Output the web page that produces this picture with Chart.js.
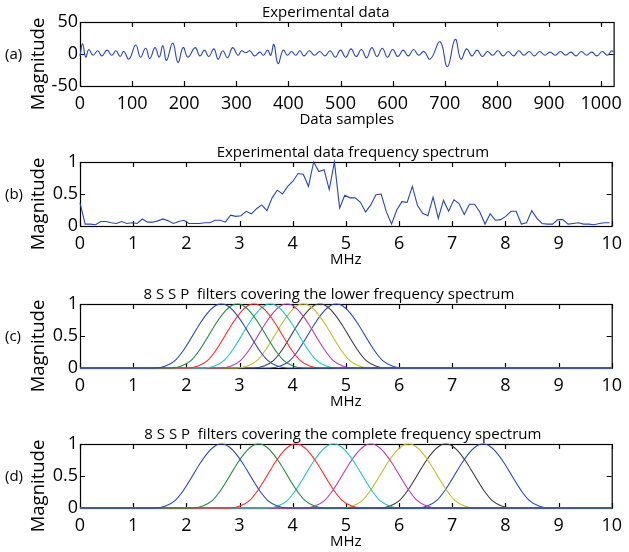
<!DOCTYPE html>
<html>
<head>
<meta charset="utf-8">
<script src="https://cdn.jsdelivr.net/npm/chart.js@4.4.1/dist/chart.umd.min.js"></script>
<style>
  html, body { margin: 0; padding: 0; background: #fff; }
  #wrap { position: relative; width: 629px; height: 552px; overflow: hidden; }
  .panel { position: absolute; left: 0; width: 629px; }
</style>
</head>
<body>
<div id="wrap">
  <div class="panel" style="top:0;height:140px"><canvas id="chartA"></canvas></div>
  <div class="panel" style="top:140px;height:140px"><canvas id="chartB"></canvas></div>
  <div class="panel" style="top:282px;height:140px"><canvas id="chartC"></canvas></div>
  <div class="panel" style="top:422px;height:130px"><canvas id="chartD"></canvas></div>
</div>
<script>
// (a) experimental data: turning points of the trace (sample index, magnitude)
const sampleIdx = [0, 5, 11, 17, 25, 34, 42, 52, 61, 69, 77, 84, 94, 107, 116, 126, 134, 144, 152, 159,
  166, 178, 188, 198, 207, 221, 230, 239, 247, 257, 265, 274, 283, 293, 303, 310, 318, 326, 335, 345,
  352, 360, 366, 372, 380, 390, 398, 406, 414, 422, 430, 440, 450, 460, 470, 480, 490, 500, 510, 520,
  530, 540, 550, 560, 570, 580, 590, 600, 610, 620, 630, 640, 650, 660, 672, 691, 705, 720, 731, 742,
  752, 762, 772, 782, 792, 802, 812, 822, 832, 842, 852, 862, 872, 882, 892, 902, 912, 922, 932, 942,
  952, 962, 972, 982, 992, 1002, 1012, 1020, 1024];
const sampleVal = [-3, 16, -5, 7, -2, 5, -3, 6, -2, 5, -4, 4, -8, 14, -5, 9, -7, 10, -5, 13,
  -10, 17, -13, 10, -5, 10, -3, 6, -4, 8, -8, 5, -6, 10, -2, 5, 2, 5, -3, 3,
  -2, 6, -2, 15, -15, 6, -2, 4, -2, 5, -3, 5, -2, 4, -3, 5, -5, 6, -5, 8,
  -4, 7, -6, 10, -4, 9, -5, 7, -4, 6, -3, 7, -2, 4, -8, 19, -20, 23, -8, 8,
  -3, 6, -4, 4, -2, 5, -3, 4, -3, 5, -2, 4, -3, 4, -2, 3, -2, 4, -2, 3,
  -3, 4, -2, 3, -3, 4, -2, 5, 3];

// (b) normalised spectrum, one value per FFT bin
const binMHz = 100 / 1024;
const specMag = [0.36, 0.03, 0.03, 0.02, 0.07, 0.07, 0.05, 0.04, 0.07, 0.04,
  0.05, 0.04, 0.11, 0.06, 0.06, 0.08, 0.11, 0.08, 0.04, 0.07,
  0.09, 0.04, 0.04, 0.04, 0.05, 0.05, 0.09, 0.09, 0.06, 0.17,
  0.15, 0.16, 0.23, 0.19, 0.27, 0.33, 0.24, 0.44, 0.56, 0.50,
  0.62, 0.70, 0.82, 0.81, 0.62, 1.00, 0.85, 0.88, 0.57, 1.00,
  0.28, 0.48, 0.44, 0.44, 0.37, 0.22, 0.33, 0.49, 0.50, 0.22,
  0.03, 0.25, 0.38, 0.37, 0.62, 0.32, 0.20, 0.16, 0.45, 0.12,
  0.40, 0.23, 0.41, 0.35, 0.18, 0.34, 0.34, 0.22, 0.03, 0.19,
  0.09, 0.10, 0.15, 0.23, 0.23, 0.03, 0.05, 0.24, 0.12, 0.04,
  0.03, 0.03, 0.10, 0.10, 0.03, 0.04, 0.05, 0.03, 0.03, 0.02,
  0.04, 0.05, 0.05];

// (c), (d) SSP filters: bell shape (offset from centre in MHz)
const filterOffset = [-1.25, -1.05, -0.88, -0.72, -0.56, -0.4, -0.25, -0.1, 0, 0.1, 0.25, 0.4, 0.56, 0.72, 0.88, 1.05, 1.25];
const filterShape = [0, 0.03, 0.11, 0.27, 0.48, 0.7, 0.87, 0.98, 1, 0.98, 0.87, 0.7, 0.48, 0.27, 0.11, 0.03, 0];
const lowerCenters = [2.66, 2.96, 3.27, 3.58, 3.89, 4.2, 4.51, 4.82];
const fullCenters = [2.66, 3.36, 4.06, 4.77, 5.47, 6.18, 6.88, 7.58];
const filterColors = ['#2846b4', '#1e8a3c', '#ff2a2a', '#1ec4c4', '#b43cb4', '#c4bc1e', '#3c3c3c', '#2846b4'];

const FONT = "'Open Sans', sans-serif";
const traceColor = '#2846b4';

// box with inward ticks + panel texts
const frame = {
  id: 'frame',
  beforeDatasetsDraw(chart) {
    const { ctx, chartArea: a, scales: { x, y } } = chart;
    ctx.save();
    ctx.strokeStyle = '#000';
    ctx.lineWidth = 1.2;
    ctx.strokeRect(a.left + 0.5, a.top + 0.5, a.right - a.left, a.bottom - a.top);
    ctx.beginPath();
    x.ticks.forEach(t => {
      const px = Math.round(x.getPixelForValue(t.value)) + 0.5;
      ctx.moveTo(px, a.bottom); ctx.lineTo(px, a.bottom - 5);
      ctx.moveTo(px, a.top); ctx.lineTo(px, a.top + 5);
    });
    y.ticks.forEach(t => {
      const py = Math.round(y.getPixelForValue(t.value)) + 0.5;
      ctx.moveTo(a.left, py); ctx.lineTo(a.left + 5, py);
      ctx.moveTo(a.right, py); ctx.lineTo(a.right - 5, py);
    });
    ctx.stroke();
    ctx.restore();
  },
  afterDraw(chart, args, opts) {
    const { ctx, chartArea: a } = chart;
    const cx = (a.left + a.right) / 2, cy = (a.top + a.bottom) / 2;
    ctx.save();
    ctx.fillStyle = '#000';
    ctx.textAlign = 'center';
    ctx.textBaseline = 'alphabetic';
    ctx.font = '15px ' + FONT;
    ctx.fillText(opts.title, cx + (opts.titleDx || 0), a.top - 5);
    ctx.font = '15px ' + FONT;
    ctx.fillText(opts.xTitle, cx, a.bottom + 38);
    ctx.textAlign = 'left';
    ctx.textBaseline = 'middle';
    ctx.font = '15px ' + FONT;
    ctx.fillText(opts.letter, 5, cy + 1);
    ctx.translate(39, cy + 10);
    ctx.rotate(-Math.PI / 2);
    ctx.textAlign = 'center';
    ctx.font = '18.5px ' + FONT;
    ctx.fillText('Magnitude', 0, 0);
    ctx.restore();
  }
};

function makeChart(id, height, datasets, xs, ys, text) {
  const tickFont = { family: FONT, size: 18 };
  return new Chart(document.getElementById(id), {
    type: 'line',
    data: { datasets: datasets },
    options: {
      responsive: true,
      maintainAspectRatio: false,
      animation: false,
      layout: { padding: { top: 22, right: 13, left: 0, bottom: 0 } },
      elements: { point: { radius: 0 }, line: { borderWidth: 1.1 } },
      plugins: { legend: { display: false }, tooltip: { enabled: false }, frame: text },
      scales: {
        x: {
          type: 'linear', min: xs.min, max: xs.max,
          grid: { display: false, drawTicks: false }, border: { display: false },
          ticks: { stepSize: xs.step, includeBounds: false, autoSkip: false, maxRotation: 0,
                   padding: 7, color: '#000', font: tickFont, callback: v => String(v) },
          afterFit: s => { s.height = height - 22 - 64; }
        },
        y: {
          min: ys.min, max: ys.max,
          grid: { display: false, drawTicks: false }, border: { display: false },
          ticks: { stepSize: ys.step, padding: 2, color: '#000', font: tickFont, callback: v => String(v) },
          afterFit: s => { s.width = 80; }
        }
      }
    },
    plugins: [frame]
  });
}

function filterSets(centers) {
  return centers.map((c, i) => ({
    data: [{ x: 0, y: 0 }]
      .concat(filterOffset.map((o, k) => ({ x: c + o, y: filterShape[k] })))
      .concat([{ x: 10, y: 0 }]),
    borderColor: filterColors[i],
    cubicInterpolationMode: 'monotone',
    clip: false
  }));
}

makeChart('chartA', 140, [{
  data: sampleIdx.map((s, i) => ({ x: s, y: sampleVal[i] })),
  borderColor: traceColor, tension: 0.45, clip: false
}], { min: 0, max: 1024, step: 100 }, { min: -50, max: 50, step: 50 },
  { title: 'Experimental data', titleDx: -21, xTitle: 'Data samples', letter: '(a)' });

makeChart('chartB', 140, [{
  data: specMag.map((m, k) => ({ x: k * binMHz, y: m })),
  borderColor: traceColor, tension: 0, clip: false
}], { min: 0, max: 10, step: 1 }, { min: 0, max: 1, step: 0.5 },
  { title: 'Experimental data frequency spectrum', titleDx: 7, xTitle: 'MHz', letter: '(b)' });

makeChart('chartC', 140, filterSets(lowerCenters),
  { min: 0, max: 10, step: 1 }, { min: 0, max: 1, step: 0.5 },
  { title: '8 S S P  filters covering the lower frequency spectrum', titleDx: -17, xTitle: 'MHz', letter: '(c)' });

makeChart('chartD', 130, filterSets(fullCenters),
  { min: 0, max: 10, step: 1 }, { min: 0, max: 1, step: 0.5 },
  { title: '8 S S P  filters covering the complete frequency spectrum', titleDx: -3, xTitle: 'MHz', letter: '(d)' });
</script>
</body>
</html>
